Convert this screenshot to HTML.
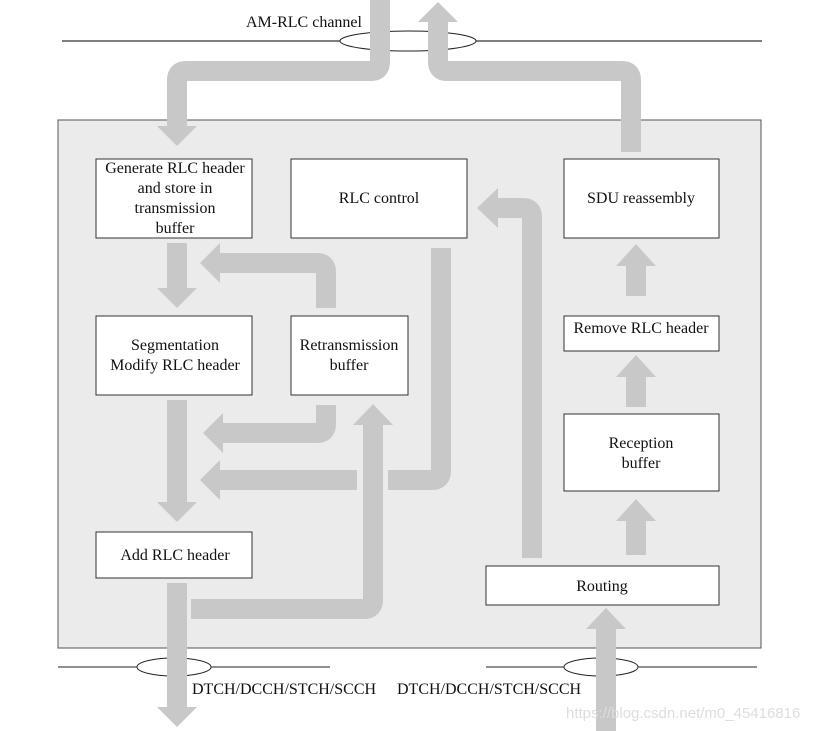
<!DOCTYPE html>
<html><head><meta charset="utf-8"><style>
html,body{margin:0;padding:0;background:#fff;}
svg{display:block;}
text{font-family:"Liberation Serif",serif;font-size:16px;fill:#111;}
</style></head><body>
<svg width="823" height="731" viewBox="0 0 823 731" xmlns="http://www.w3.org/2000/svg">
<rect x="58" y="120" width="703" height="528" fill="#ebebeb" stroke="#555" stroke-width="1"/>
<line x1="62" y1="41" x2="762" y2="41" stroke="#555" stroke-width="1.5"/>
<ellipse cx="408" cy="41" rx="68" ry="10" fill="#fff" stroke="#222" stroke-width="1"/>
<line x1="58" y1="667" x2="330" y2="667" stroke="#222" stroke-width="1"/>
<ellipse cx="174" cy="667" rx="37" ry="9" fill="#fff" stroke="#222" stroke-width="1"/>
<line x1="486" y1="667" x2="757" y2="667" stroke="#222" stroke-width="1"/>
<ellipse cx="601" cy="667" rx="37" ry="9" fill="#fff" stroke="#222" stroke-width="1"/>
<text x="246" y="27">AM-RLC channel</text>
<text x="192" y="694">DTCH/DCCH/STCH/SCCH</text>
<text x="397" y="694">DTCH/DCCH/STCH/SCCH</text>
<g fill="none" stroke="#c8c8c8" stroke-width="20" stroke-linejoin="round">
<path d="M380 0 V62 Q380 71 371 71 H186 Q177 71 177 80 V126"/>
<path d="M631 152 V80 Q631 71 622 71 H447 Q438 71 438 62 V21"/>
<path d="M177 243 V289"/>
<path d="M326 308 V272 Q326 263 317 263 H219"/>
<path d="M177 400 V503"/>
<path d="M326 405 V424 Q326 433 317 433 H222"/>
<path d="M357 480 H219"/>
<path d="M441 248 V471 Q441 480 432 480 H388"/>
<path d="M191 609 H364 Q373 609 373 600 V424"/>
<path d="M177 583 V708"/>
<path d="M606 731 V628"/>
<path d="M532 558 V217 Q532 208 523 208 H497"/>
<path d="M636 555 V520"/>
<path d="M636 407 V375"/>
<path d="M636 296 V264"/>
</g>
<g fill="#c8c8c8">
<polygon points="157,126 197,126 177,146"/>
<polygon points="418,22 458,22 438,2"/>
<polygon points="157,288 197,288 177,308"/>
<polygon points="220,243 220,283 200,263"/>
<polygon points="157,502 197,502 177,522"/>
<polygon points="223,413 223,453 203,433"/>
<polygon points="220,460 220,500 200,480"/>
<polygon points="353,425 393,425 373,404"/>
<polygon points="157,707 197,707 177,727"/>
<polygon points="586,629 626,629 606,608"/>
<polygon points="498,188 498,228 477,208"/>
<polygon points="616,521 656,521 636,499"/>
<polygon points="616,377 656,377 636,355"/>
<polygon points="616,266 656,266 636,244"/>
</g>
<g fill="#fff" stroke="#333" stroke-width="1">
<rect x="96" y="159" width="156" height="79"/>
<rect x="291" y="159" width="176" height="79"/>
<rect x="564" y="159" width="155" height="79"/>
<rect x="96" y="316" width="156" height="79"/>
<rect x="291" y="316" width="117" height="79"/>
<rect x="564" y="316" width="155" height="35"/>
<rect x="564" y="414" width="155" height="77"/>
<rect x="96" y="532" width="156" height="46"/>
<rect x="486" y="566" width="233" height="39"/>
</g>
<g text-anchor="middle">
<text x="175" y="173">Generate RLC header</text>
<text x="175" y="193">and store in</text>
<text x="175" y="213">transmission</text>
<text x="175" y="233">buffer</text>
<text x="379" y="203">RLC control</text>
<text x="641" y="203">SDU reassembly</text>
<text x="175" y="350">Segmentation</text>
<text x="175" y="370">Modify RLC header</text>
<text x="349" y="350">Retransmission</text>
<text x="349" y="370">buffer</text>
<text x="641" y="333">Remove RLC header</text>
<text x="641" y="448">Reception</text>
<text x="641" y="468">buffer</text>
<text x="175" y="560">Add RLC header</text>
<text x="602" y="591">Routing</text>
</g>
<text x="566" y="718" style="font-family:'Liberation Sans',sans-serif;font-size:15px;fill:#ddd">https://blog.csdn.net/m0_45416816</text>
</svg>
</body></html>
